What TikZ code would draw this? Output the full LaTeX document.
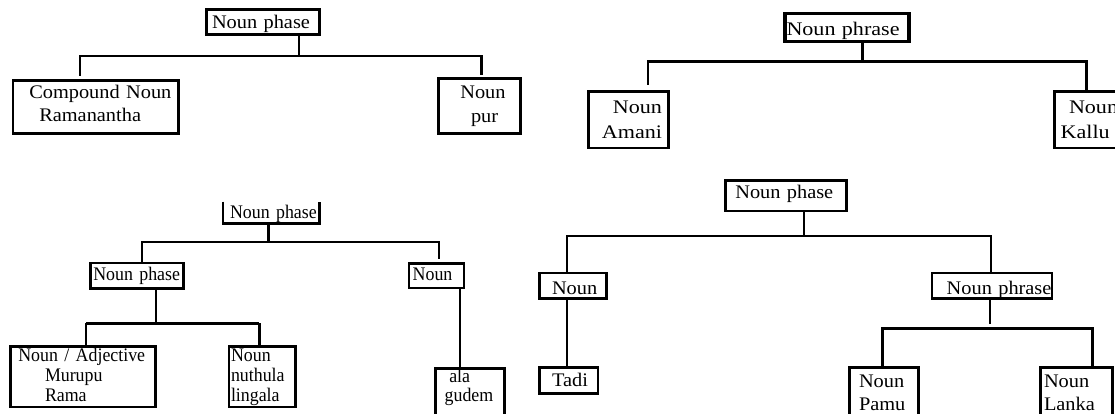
\documentclass[tikz,border=0pt]{standalone}
\usepackage{fontspec}
\setmainfont{Liberation Serif}
\newfontfamily\ftl{Liberation Serif}[FakeStretch=1.06]
\newfontfamily\ftr{Liberation Serif}[FakeStretch=1.15]
\newfontfamily\fbl{Liberation Serif}[FakeStretch=0.93]
\newfontfamily\fbr{Liberation Serif}[FakeStretch=1.06]
\begin{document}
\begin{tikzpicture}[x=1pt,y=-1pt,
  box/.style={draw, line width=2.6pt, rectangle, inner ysep=0pt, outer sep=0pt,
              anchor=north west, align=left},
  conn/.style={line width=2.4pt},
  barthick/.style={line width=3.3pt},
  ftl/.style={font=\ftl\fontsize{19.2}{22.7}\selectfont},
  ftr/.style={font=\ftr\fontsize{19.2}{25.7}\selectfont},
  fbl/.style={font=\fbl\fontsize{19.2}{20}\selectfont},
  fbr/.style={font=\fbr\fontsize{19.2}{23.4}\selectfont}]
\fill[white] (0,0) rectangle (1115,414);
\useasboundingbox (0,0) rectangle (1115,414);

% ---------- tree 1: Compound noun ----------
\node[box, ftl, minimum width=113.1pt, minimum height=24.8pt, inner xsep=5.7pt,
      text width=101.7pt, text height=12.6pt, text depth=0pt] (r1) at (206.3,9.6) {\mbox{Noun phase}};
\node[box, ftl, minimum width=165.7pt, minimum height=53.4pt, inner xsep=16.3pt,
      text width=133.1pt, text height=0pt, text depth=16pt] (c1) at (13,80.3)
      {\mbox{Compound Noun}\\\hspace*{10pt}Ramanantha};
\node[box, ftl, font=\ftl\fontsize{19.2}{24.4}\selectfont, minimum width=82.4pt, minimum height=55.1pt,
      inner xsep=22pt, text width=38.4pt, text height=0pt, text depth=15.7pt] (p1) at (438.3,78.6)
      {Noun\\\hspace*{10.7pt}pur};
\coordinate (t1m) at (299,56);
\coordinate (t1L) at (80,56);
\coordinate (t1R) at (481.3,56);
\path ([yshift=4.3pt]c1.north) coordinate (c1t) ([yshift=3.6pt]p1.north) coordinate (p1t);
\draw[conn] (r1.south -| t1m) -- (t1m);
\draw[conn] (c1t -| t1L) |- (t1R) -- (p1t -| t1R);

% ---------- tree 2: Amani Kallu ----------
\node[box, ftr, line width=3.5pt, minimum width=124pt, minimum height=28.1pt, inner xsep=1.5pt,
      text width=121pt, text height=16.4pt, text depth=0pt] (r2) at (785,13.4) {\mbox{Noun phrase}};
\node[box, ftr, align=right, minimum width=80.1pt, minimum height=56.7pt, inner xsep=6.4pt,
      text width=67.3pt, text height=0pt, text depth=12.7pt] (a2) at (588.3,91.3) {Noun\\Amani};
\node[box, ftr, minimum width=70.4pt, minimum height=56.7pt, inner xsep=6.1pt,
      text width=58.2pt, text height=0pt, text depth=12.7pt] (k2) at (1054.6,91.3)
      {\hspace*{8.3pt}Noun\\Kallu};
\coordinate (t2m) at (862.3,61.7);
\coordinate (t2L) at (648,61.7);
\coordinate (t2R) at (1086.3,61.7);
\path ([yshift=6.3pt]a2.north) coordinate (a2t);
\draw[conn] (r2.south -| t2m) -- (t2m);
\draw[conn] (a2t -| t2L) |- (t2R) -- (k2.north -| t2R);

% ---------- tree 3: Murupu Rama nuthula lingala ala gudem ----------
\node[box, fbl, draw=none, minimum width=96.7pt, minimum height=22pt, inner xsep=7pt,
      text width=82.7pt, text height=11.2pt, text depth=0pt] (r3) at (223,201.7) {\mbox{Noun phase}};
\draw[line width=2.6pt] (r3.north west) -- (r3.south west) -- (r3.south east) -- (r3.north east);
\node[box, fbl, minimum width=93.1pt, minimum height=25.7pt, inner xsep=2.7pt,
      text width=87.7pt, text height=8.3pt, text depth=0pt] (m3) at (90.6,263) {\mbox{Noun phase}};
\node[box, fbl, minimum width=55pt, minimum height=24.4pt, inner xsep=3.7pt,
      text width=47.6pt, text height=8.4pt, text depth=0pt] (n3) at (409,263.6) {Noun};
\node[box, fbl, minimum width=144.8pt, minimum height=60.7pt, inner xsep=7.7pt,
      text width=129.4pt, text height=0pt, text depth=29.9pt] (na3) at (10.6,346.3)
      {\mbox{Noun / Adjective}\\\hspace*{26.7pt}Murupu\\\hspace*{26.7pt}Rama};
\node[box, fbl, minimum width=66.4pt, minimum height=60.7pt, inner xsep=2pt,
      text width=62.4pt, text height=0pt, text depth=29.9pt] (nu3) at (229,346.3)
      {Noun\\nuthula\\lingala};
\node[box, fbl, font=\fbl\fontsize{19.2}{19}\selectfont, minimum width=69.1pt, minimum height=56.4pt,
      inner xsep=9.1pt, text width=50.9pt, text height=0pt, text depth=28.2pt] (al3) at (435.6,368.6)
      {\hspace*{4.6pt}ala\\gudem};
\coordinate (t3m) at (268.3,241.7);
\coordinate (t3L) at (141.7,241.7);
\coordinate (t3R) at (438.7,241.7);
\path ([yshift=4.3pt]n3.north) coordinate (n3t);
\draw[conn] (r3.south -| t3m) -- (t3m);
\draw[conn] (m3.north -| t3L) |- (t3R) -- (n3t -| t3R);
\coordinate (b3m) at (156,323.3);
\coordinate (b3L) at (86,323.3);
\coordinate (b3R) at (259.3,323.3);
\draw[conn] (m3.south -| b3m) -- (b3m);
\draw[conn] (na3.north -| b3L) -- (b3L);
\draw[barthick] (b3L) -- (b3R);
\draw[conn] (b3R) -- (nu3.north -| b3R);
\coordinate (v3) at (459.8,300);
\draw[conn] (n3.south -| v3) -- (al3.north -| v3);

% ---------- tree 4: Tadi Pamu Lanka ----------
\node[box, fbr, minimum width=121.1pt, minimum height=30.7pt, inner xsep=9.7pt,
      text width=101.7pt, text height=5.3pt, text depth=0pt] (r4) at (725.6,180.3) {\mbox{Noun phase}};
\node[box, fbr, minimum width=67.1pt, minimum height=25.7pt, inner xsep=12.7pt,
      text width=41.7pt, text height=16.3pt, text depth=0pt] (nB) at (539.3,273) {Noun};
\node[box, fbr, minimum width=58.7pt, minimum height=26.4pt, inner xsep=12.7pt,
      text width=33.3pt, text height=12.4pt, text depth=0pt] (tB) at (539.3,367.3) {Tadi};
\node[box, fbr, minimum width=120pt, minimum height=25.7pt, inner xsep=14.7pt,
      text width=90.6pt, text height=16.3pt, text depth=0pt] (npB) at (932,273) {\mbox{Noun phrase}};
\node[box, fbr, minimum width=69.4pt, minimum height=62.7pt, inner xsep=9.7pt,
      text width=50pt, text height=0pt, text depth=22.7pt] (pB) at (849.3,367.3) {Noun\\Pamu};
\node[box, fbr, minimum width=72.4pt, minimum height=62.7pt, inner xsep=3.7pt,
      text width=65pt, text height=0pt, text depth=22.7pt] (lB) at (1040.3,367.3) {Noun\\Lanka};
\coordinate (t4m) at (804,236);
\coordinate (t4L) at (567,236);
\coordinate (t4R) at (990.7,236);
\draw[conn] (r4.south -| t4m) -- (t4m);
\draw[conn] (nB.north -| t4L) |- (t4R) -- (npB.north -| t4R);
\draw[conn] (nB.south -| t4L) -- (tB.north -| t4L);
\coordinate (v4) at (990,324);
\draw[conn] (npB.south -| v4) -- (v4);
\coordinate (b4L) at (882.3,328.3);
\coordinate (b4R) at (1092.3,328.3);
\draw[conn] (pB.north -| b4L) |- (b4R) -- (lB.north -| b4R);
\end{tikzpicture}
\end{document}
